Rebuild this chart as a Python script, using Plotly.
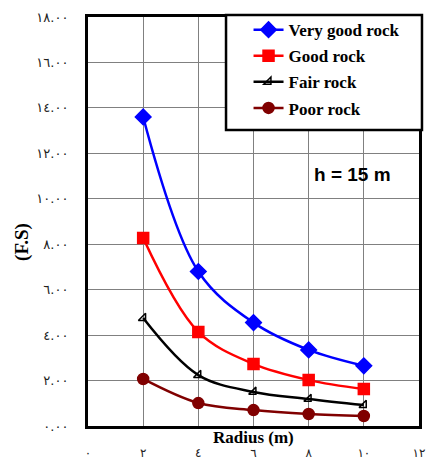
import plotly.graph_objects as go

# Radius (m) and factor of safety for each rock class, h = 15 m
radius = [2, 4, 6, 8, 10]
very_good = [13.6, 6.8, 4.55, 3.35, 2.65]
good = [8.27, 4.14, 2.73, 2.02, 1.63]
fair = [4.75, 2.24, 1.50, 1.19, 0.92]
poor = [2.07, 1.01, 0.70, 0.53, 0.44]

x_tick_vals = [0, 2, 4, 6, 8, 10, 12]
x_tick_text = ["٠", "٢", "٤", "٦", "٨", "١٠", "١٢"]
y_tick_vals = [0, 2, 4, 6, 8, 10, 12, 14, 16, 18]
y_tick_text = ["٠.٠٠", "٢.٠٠", "٤.٠٠", "٦.٠٠", "٨.٠٠",
               "١٠.٠٠", "١٢.٠٠", "١٤.٠٠", "١٦.٠٠", "١٨.٠٠"]

series = [
    ("Very good rock", very_good, "#0000FF", "diamond", 12),
    ("Good rock", good, "#FF0000", "square", 11),
    ("Fair rock", fair, "#000000", "triangle-se-open", 8),
    ("Poor rock", poor, "#800000", "circle", 11),
]

fig = go.Figure()
for i, (name, vals, color, symbol, size) in enumerate(series):
    fig.add_trace(go.Scatter(
        x=radius, y=vals, name=name, mode="lines+markers",
        legendgroup=f"g{i}",
        line=dict(color=color, width=2.5, shape="spline", smoothing=1.0),
        marker=dict(symbol=symbol, size=size, color=color,
                    line=dict(color=color, width=1.5)),
    ))

serif = "Times New Roman, Liberation Serif, serif"
digits = "DejaVu Sans"

fig.update_layout(
    width=430, height=463,
    margin=dict(l=88, r=11, t=17, b=37, autoexpand=False),
    paper_bgcolor="white", plot_bgcolor="white",
    showlegend=True,
    legend=dict(
        x=0.485, y=1.012, xanchor="left", yanchor="top",
        bgcolor="rgba(0,0,0,0)", borderwidth=0,
        font=dict(family=serif, size=17, color="black", weight="bold"),
        traceorder="grouped", tracegroupgap=1, itemwidth=30,
    ),
    # framed white panel behind the legend entries
    shapes=[dict(type="rect", xref="paper", yref="paper",
                 x0=0.417, x1=1.009, y0=0.724, y1=1.005,
                 fillcolor="white", line=dict(color="black", width=2.5),
                 layer="above")],
    xaxis=dict(
        range=[0, 12], tickvals=x_tick_vals, ticktext=x_tick_text,
        automargin=False,
        showgrid=True, gridcolor="#808080", gridwidth=1,
        showline=True, linecolor="black", linewidth=3, mirror=True,
        ticks="", zeroline=False, ticklabelstandoff=14,
        tickfont=dict(family=digits, size=12, color="#222222"),
    ),
    yaxis=dict(
        range=[0, 18], tickvals=y_tick_vals, ticktext=y_tick_text,
        automargin=False,
        showgrid=True, gridcolor="#808080", gridwidth=1,
        showline=True, linecolor="black", linewidth=3, mirror=True,
        ticks="", zeroline=False, ticklabelstandoff=14,
        tickfont=dict(family=digits, size=13, color="#222222"),
    ),
    annotations=[
        dict(text="<b>Radius (m)</b>", xref="paper", yref="paper",
             x=0.5, y=0, yshift=-11, xanchor="center", yanchor="middle",
             showarrow=False, font=dict(family=serif, size=17, color="black")),
        dict(text="<b>(F.S)</b>", xref="paper", yref="paper",
             x=0, y=0.45, xshift=-66, textangle=-90,
             xanchor="center", yanchor="middle", showarrow=False,
             font=dict(family=serif, size=19, color="black")),
        dict(text="<b>h = 15 m</b>", xref="x", yref="y",
             x=9.6, y=11.05, xanchor="center", yanchor="middle",
             showarrow=False,
             font=dict(family="Liberation Sans, Arial", size=19, color="black")),
    ],
)

fig.write_html("out.html")
